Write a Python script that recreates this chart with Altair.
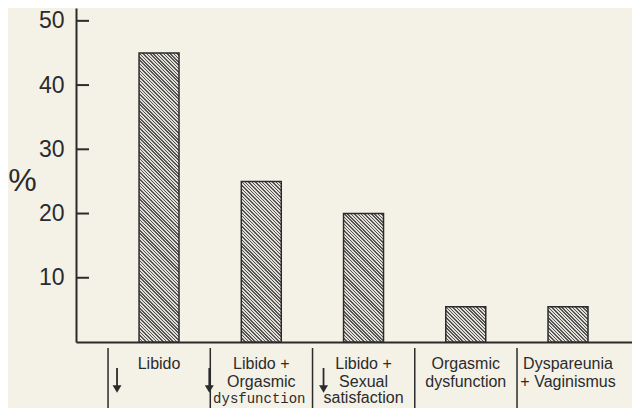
import math
import altair as alt
import pandas as pd

# ---------------- data ----------------
categories = [
    "Libido",
    "Libido + Orgasmic dysfunction",
    "Libido + Sexual satisfaction",
    "Orgasmic dysfunction",
    "Dyspareunia + Vaginismus",
]
values = [45, 25, 20, 5.5, 5.5]

label_line1 = ["Libido", "Libido +", "Libido +", "Orgasmic", "Dyspareunia"]
label_line2 = ["", "Orgasmic", "Sexual", "dysfunction", "+ Vaginismus"]
label_line3 = ["", "", "satisfaction", "", ""]
label_mono = ["", "dysfunction", "", "", ""]
arrow_categories = ["Libido", "Libido + Orgasmic dysfunction", "Libido + Sexual satisfaction"]

y_ticks = [10, 20, 30, 40, 50]

# ---------------- layout / style ----------------
W, H, YMAX = 556, 334, 52
P_INNER, P_OUTER, ALIGN = 0.609, 0.5235, 0.589
BG = "#f4f1e7"
INK = "#2b2b2b"
DARK = "#555555"
LIGHT = "#e2dfd6"

step = W / (len(categories) - P_INNER + 2 * P_OUTER)
bandwidth = step * (1 - P_INNER)


def hatch(value, pitch=2.4, dark_frac=0.45):
    """Diagonal hatch (\\\\) as a hard-stop linear gradient in bbox units."""
    w = bandwidth
    h = value / YMAX * H
    t = (w + h) / (w * w + h * h)
    x2, y2 = t * w, 1 - t * h
    length = (w + h) / math.sqrt(2)
    n = max(1, int(round(length / pitch)))
    stops = []
    for k in range(n):
        a = k / n
        m = (k + dark_frac) / n
        b = (k + 1) / n
        stops += [
            {"offset": a, "color": DARK},
            {"offset": m, "color": DARK},
            {"offset": m, "color": LIGHT},
            {"offset": b, "color": LIGHT},
        ]
    return {"gradient": "linear", "x1": 0, "y1": 1, "x2": x2, "y2": y2, "stops": stops}


bars_df = pd.DataFrame({"cat": categories, "val": values})
labels_df = pd.DataFrame(
    {"cat": categories, "l1": label_line1, "l2": label_line2, "l3": label_line3, "mono": label_mono}
)
ticks_df = pd.DataFrame({"t": y_ticks})
arrows_df = pd.DataFrame({"cat": arrow_categories})

x_scale = alt.Scale(domain=categories, paddingInner=P_INNER, paddingOuter=P_OUTER, align=ALIGN)
x_axis = alt.Axis(labels=False, ticks=False, title=None, grid=False, domainColor=INK, domainWidth=2)
y_scale = alt.Scale(domain=[0, YMAX], nice=False, zero=True)
y_axis = alt.Axis(
    values=y_ticks,
    ticks=False,
    grid=False,
    labelFont="Liberation Sans",
    labelFontSize=23,
    labelColor=INK,
    labelPadding=12,
    domainColor=INK,
    domainWidth=2,
    title="%",
    titleAngle=0,
    titleFont="Liberation Sans",
    titleFontSize=32,
    titleFontWeight="normal",
    titleColor=INK,
    titleX=-54,
    titleY=172,
    titleAlign="center",
    titleBaseline="middle",
)

X = alt.X("cat:N", scale=x_scale, axis=x_axis, sort=categories)
Y = alt.Y("val:Q", scale=y_scale, axis=y_axis)

layers = []
for c, v in zip(categories, values):
    layers.append(
        alt.Chart(bars_df)
        .transform_filter(alt.datum.cat == c)
        .mark_bar(fill=hatch(v), stroke=INK, strokeWidth=1.5)
        .encode(x=X, y=Y)
    )

# inward tick marks on the y axis
layers.append(
    alt.Chart(ticks_df)
    .mark_rule(color=INK, strokeWidth=2)
    .encode(y=alt.Y("t:Q", scale=y_scale, axis=y_axis), x=alt.value(0), x2=alt.value(13))
)

# separators between category labels
layers.append(
    alt.Chart(bars_df)
    .mark_rule(color=INK, strokeWidth=1.5, xOffset=-51)
    .encode(x=X, y=alt.value(340), y2=alt.value(400))
)

# category label lines
text_common = dict(font="Liberation Sans", fontSize=16, color=INK, baseline="alphabetic", align="center", dx=0)
for field, ypos in [("l1", 361), ("l2", 379), ("l3", 395)]:
    layers.append(
        alt.Chart(labels_df).mark_text(**text_common).encode(x=X, y=alt.value(ypos), text=f"{field}:N")
    )
layers.append(
    alt.Chart(labels_df)
    .mark_text(font="Liberation Mono", fontSize=14, color=INK, baseline="alphabetic", align="center", dx=-2)
    .encode(x=X, y=alt.value(395), text="mono:N")
)

# down arrows (shaft + head) drawn next to the affected categories
for c, dx in zip(arrow_categories, [-42, -52, -40]):
    base = alt.Chart(arrows_df).transform_filter(alt.datum.cat == c)
    layers.append(
        base.mark_rule(color=INK, strokeWidth=1.8, xOffset=dx).encode(
            x=X, y=alt.value(360), y2=alt.value(378)
        )
    )
    layers.append(
        base.mark_point(shape="triangle-down", filled=True, size=80, color=INK, opacity=1, xOffset=dx).encode(
            x=X, y=alt.value(381)
        )
    )

chart = (
    alt.layer(*layers)
    .properties(
        width=W,
        height=H,
        padding={"left": 68, "top": 0, "right": 0, "bottom": 66},
        autosize=alt.AutoSizeParams(type="none"),
        background=BG,
    )
    .configure_view(stroke=None)
)

chart.save("out.html", embed_options={"renderer": "svg", "actions": False})
